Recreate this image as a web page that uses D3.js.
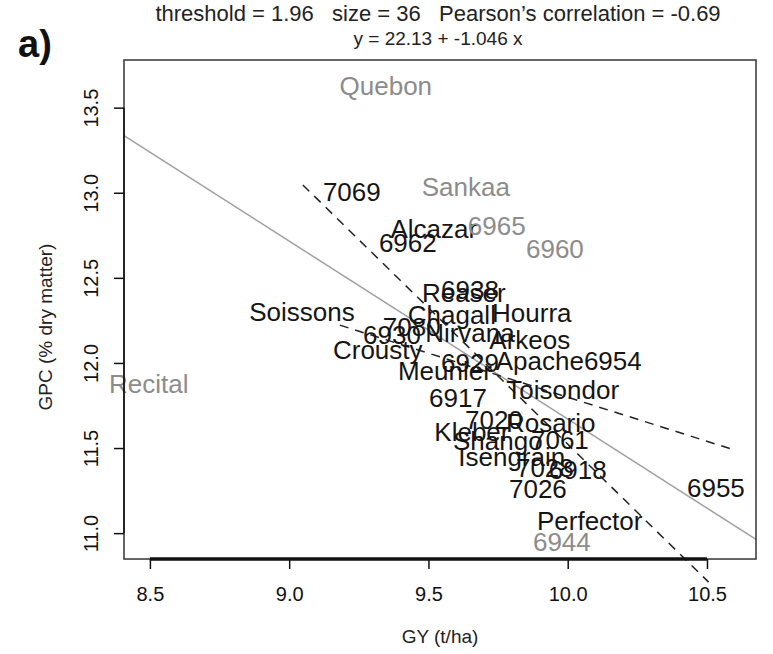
<!DOCTYPE html>
<html lang="en">
<head>
  <meta charset="UTF-8">
  <title>GPC vs GY</title>
  <script src="https://d3js.org/d3.v7.min.js"></script>
  <style>
    html, body { margin: 0; padding: 0; background: #fff; }
    svg { display: block; font-family: "Liberation Sans", Arial, sans-serif; }
    .title { fill: #222; text-anchor: middle; white-space: pre; }
    .panel { font-size: 38px; font-weight: bold; fill: #111; }
    .axis-label { font-size: 19px; fill: #222; text-anchor: middle; }
    .tick text { font-size: 20px; fill: #111; }
    .pt-label { font-size: 26px; text-anchor: middle; dominant-baseline: central; }
  </style>
</head>
<body>
  <svg width="773" height="654"></svg>
  <script>
    // variety labels placed at (GY, GPC)
    const varieties = ["Quebon", "7069", "Sankaa", "Alcazar", "6965", "6962", "6960", "Soissons",
      "Recital", "Reaser", "6938", "Chagall", "Hourra", "7080", "6930", "Crousty", "Nirvana",
      "Arkeos", "Apache", "6954", "Meunier", "6929", "Toisondor", "6917", "7020", "Rosario",
      "Kleber", "7061", "Shango", "Isengrain", "7028", "6918", "7026", "Perfector", "6944", "6955"];
    const gy = [9.347, 9.225, 9.634, 9.519, 9.745, 9.426, 9.954, 9.046,
      8.496, 9.627, 9.649, 9.584, 9.871, 9.440, 9.369, 9.318, 9.649,
      9.864, 9.900, 10.162, 9.559, 9.649, 9.982, 9.606, 9.735, 9.939,
      9.656, 9.972, 9.749, 9.799, 9.918, 10.036, 9.893, 10.079, 9.979, 10.532];
    const gpc = [13.628, 13.004, 13.034, 12.787, 12.805, 12.705, 12.669, 12.299,
      11.876, 12.411, 12.428, 12.281, 12.293, 12.211, 12.164, 12.076, 12.176,
      12.135, 12.011, 12.011, 11.952, 12.000, 11.840, 11.793, 11.664, 11.646,
      11.593, 11.546, 11.540, 11.447, 11.382, 11.370, 11.258, 11.070, 10.947, 11.264];
    const greyNames = ["Quebon", "Sankaa", "6965", "6960", "Recital", "6944"];

    const xTicks = [8.5, 9.0, 9.5, 10.0, 10.5];
    const yTicks = [11.0, 11.5, 12.0, 12.5, 13.0, 13.5];

    // regression y = 22.13 + -1.046 x, and the two dashed threshold lines
    const fit = { a: 22.13, b: -1.046 };
    const dashSteep = [[9.049, 13.046], [10.506, 10.712]];
    const dashFlat = [[9.182, 12.222], [10.600, 11.488]];

    const titleLines = ["threshold = 1.96   size = 36   Pearson\u2019s correlation = -0.69",
      "y = 22.13 + -1.046 x"];
    const titleSizes = [22, 19];

    const box = { left: 124, right: 756, top: 60, bottom: 559 };
    const xLim = [8.407, 10.676];
    const yLim = [10.848, 13.78];

    const svg = d3.select("svg");

    const x = d3.scaleLinear().domain(xLim).range([box.left, box.right]);
    const y = d3.scaleLinear().domain(yLim).range([box.bottom, box.top]);

    svg.append("defs").append("clipPath").attr("id", "clip")
      .append("rect")
      .attr("x", box.left).attr("y", box.top)
      .attr("width", box.right - box.left).attr("height", box.bottom - box.top);

    // title
    svg.selectAll(".title")
      .data(titleLines)
      .enter()
      .append("text")
      .attr("class", "title")
      .attr("x", 438)
      .attr("y", (d, i) => 21 + i * 24)
      .style("font-size", (d, i) => titleSizes[i] + "px")
      .text(d => d);

    svg.append("text")
      .attr("class", "panel")
      .attr("x", 18)
      .attr("y", 57)
      .text("a)");

    // regression line (clipped to the box)
    svg.append("line")
      .attr("clip-path", "url(#clip)")
      .attr("x1", x(xLim[0])).attr("y1", y(fit.a + fit.b * xLim[0]))
      .attr("x2", x(xLim[1])).attr("y2", y(fit.a + fit.b * xLim[1]))
      .attr("stroke", "#a0a0a0").attr("stroke-width", 1.5);

    // dashed lines
    svg.selectAll(".dash")
      .data([dashSteep, dashFlat])
      .enter()
      .append("line")
      .attr("class", "dash")
      .attr("x1", d => x(d[0][0])).attr("y1", d => y(d[0][1]))
      .attr("x2", d => x(d[1][0])).attr("y2", d => y(d[1][1]))
      .attr("stroke", "#222").attr("stroke-width", 1.5)
      .attr("stroke-dasharray", "9,7");

    // labels
    const pts = varieties.map((v, i) => ({ name: v, gy: gy[i], gpc: gpc[i] }));
    svg.selectAll(".pt-label")
      .data(pts)
      .enter()
      .append("text")
      .attr("class", "pt-label")
      .attr("x", d => x(d.gy))
      .attr("y", d => y(d.gpc))
      .attr("fill", d => greyNames.includes(d.name) ? "#8c8c8c" : "#151515")
      .text(d => d.name);

    // box
    svg.append("rect")
      .attr("x", box.left).attr("y", box.top)
      .attr("width", box.right - box.left).attr("height", box.bottom - box.top)
      .attr("fill", "none").attr("stroke", "#333").attr("stroke-width", 1.5);

    // x axis
    const xAxis = svg.append("g")
      .attr("transform", `translate(0, ${box.bottom})`)
      .call(d3.axisBottom(x).tickValues(xTicks).tickSize(10).tickSizeOuter(0).tickPadding(18)
        .tickFormat(d3.format(".1f")));
    xAxis.select(".domain")
      .attr("d", `M${x(xTicks[0])},0H${x(xTicks[xTicks.length - 1])}`)
      .attr("stroke", "#111").attr("stroke-width", 3.5);
    xAxis.selectAll(".tick line").attr("stroke", "#111").attr("stroke-width", 1.5);

    // y axis, labels rotated like R's las = 0
    const yAxis = svg.append("g")
      .attr("transform", `translate(${box.left}, 0)`)
      .call(d3.axisLeft(y).tickValues(yTicks).tickSize(10).tickSizeOuter(0)
        .tickFormat(d3.format(".1f")));
    yAxis.select(".domain")
      .attr("d", `M0,${y(yTicks[0])}V${y(yTicks[yTicks.length - 1])}`)
      .attr("stroke", "#111").attr("stroke-width", 1.5);
    yAxis.selectAll(".tick line").attr("stroke", "#111").attr("stroke-width", 1.5);
    yAxis.selectAll(".tick text")
      .attr("x", null).attr("dy", null)
      .attr("text-anchor", "middle")
      .attr("transform", "translate(-26, 0) rotate(-90)");

    svg.append("text")
      .attr("class", "axis-label")
      .attr("x", 440)
      .attr("y", 643)
      .text("GY (t/ha)");

    svg.append("text")
      .attr("class", "axis-label")
      .attr("transform", "translate(52, 327) rotate(-90)")
      .text("GPC (% dry matter)");
  </script>
</body>
</html>
